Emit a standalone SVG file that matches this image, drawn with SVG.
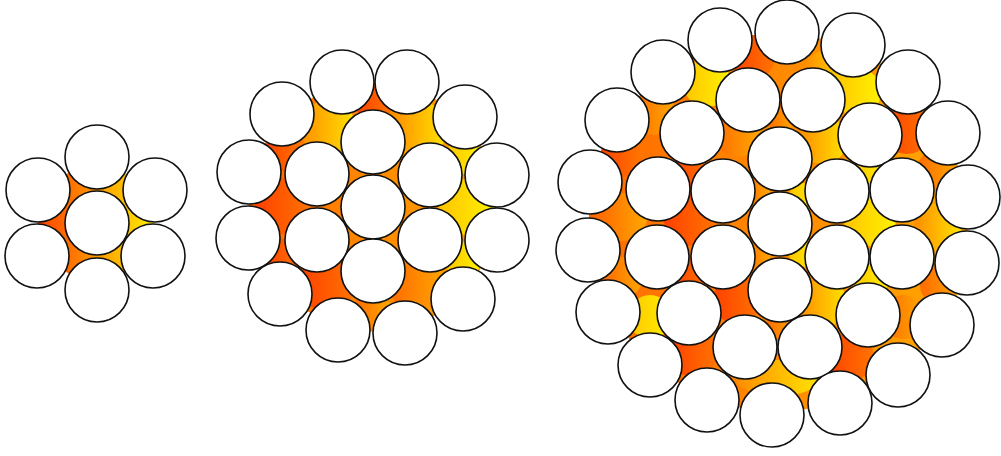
<svg xmlns="http://www.w3.org/2000/svg" width="1001" height="456" viewBox="0 0 1001 456">
<defs>
<linearGradient id="g1" gradientUnits="userSpaceOnUse" x1="40" y1="0" x2="155" y2="0"><stop offset="0" stop-color="#ff4400"/><stop offset="0.5" stop-color="#ff9a00"/><stop offset="1" stop-color="#fff000"/></linearGradient>
<linearGradient id="gR"><stop offset="0" stop-color="#ff4000"/><stop offset="1" stop-color="#ff7400"/></linearGradient>
<linearGradient id="gO"><stop offset="0" stop-color="#ff6a00"/><stop offset="1" stop-color="#ffa800"/></linearGradient>
<linearGradient id="gOY"><stop offset="0" stop-color="#ff8c00"/><stop offset="1" stop-color="#ffe400"/></linearGradient>
<linearGradient id="gY"><stop offset="0" stop-color="#ffc400"/><stop offset="1" stop-color="#fff200"/></linearGradient>
</defs>
<style>
.w{fill:#ffffff;stroke:#111111;stroke-width:1.6}
.R{fill:url(#gR)}.O{fill:url(#gO)}.OY{fill:url(#gOY)}.Y{fill:url(#gY)}
</style>
<rect width="1001" height="456" fill="#ffffff"/>

<g id="strand7">
<polygon points="97,157 155,190 153,255 97,290 37,255 38,190" fill="url(#g1)"/>
<g class="w">
<circle cx="97" cy="223" r="32"/>
<circle cx="97" cy="157" r="32"/>
<circle cx="97" cy="290" r="32"/>
<circle cx="38" cy="190" r="32"/>
<circle cx="37" cy="256" r="32"/>
<circle cx="155" cy="190" r="32"/>
<circle cx="153" cy="256" r="32"/>
</g>
</g>

<g id="strand19">
<polygon points="342,82 407,82 465,117 497,175 497,240 463,299 405,333 338,330 280,294 248,238 249,172 282,114" class="O"/>
<circle cx="283" cy="206" r="28" class="R"/>
<circle cx="467" cy="207" r="28" class="Y"/>
<circle cx="328" cy="128" r="28" class="OY"/>
<circle cx="419" cy="129" r="28" class="OY"/>
<circle cx="327" cy="284" r="28" class="R"/>
<circle cx="418" cy="286" r="28" class="O"/>
<circle cx="374" cy="104" r="18" class="R"/>
<circle cx="372" cy="309" r="18" class="O"/>
<circle cx="283" cy="153" r="18" class="R"/>
<circle cx="282" cy="257" r="18" class="R"/>
<circle cx="464" cy="156" r="18" class="Y"/>
<circle cx="463" cy="260" r="18" class="Y"/>
<g class="w">
<circle cx="373" cy="207" r="32"/>
<circle cx="373" cy="142" r="32"/>
<circle cx="373" cy="271" r="32"/>
<circle cx="317" cy="174" r="32"/>
<circle cx="317" cy="240" r="32"/>
<circle cx="430" cy="175" r="32"/>
<circle cx="430" cy="240" r="32"/>
<circle cx="342" cy="82" r="32"/>
<circle cx="407" cy="82" r="32"/>
<circle cx="282" cy="114" r="32"/>
<circle cx="465" cy="117" r="32"/>
<circle cx="249" cy="172" r="32"/>
<circle cx="497" cy="175" r="32"/>
<circle cx="248" cy="238" r="32"/>
<circle cx="497" cy="240" r="32"/>
<circle cx="280" cy="294" r="32"/>
<circle cx="463" cy="299" r="32"/>
<circle cx="338" cy="330" r="32"/>
<circle cx="405" cy="333" r="32"/>
</g>
</g>

<g id="strand37">
<polygon points="787,32 853,45 908,82 948,133 968,197 967,263 942,325 898,375 840,403 772,415 707,400 650,365 608,312 588,250 590,182 617,120 663,72 720,40" class="O"/>
<circle cx="753" cy="57" r="22" class="R"/>
<circle cx="827" cy="72" r="22" class="OY"/>
<circle cx="707" cy="83" r="24" class="Y"/>
<circle cx="857" cy="92" r="24" class="Y"/>
<circle cx="653" cy="113" r="22" class="O"/>
<circle cx="907" cy="130" r="24" class="R"/>
<circle cx="737" cy="133" r="24" class="O"/>
<circle cx="823" cy="140" r="24" class="OY"/>
<circle cx="780" cy="118" r="14" class="O"/>
<circle cx="620" cy="157" r="20" class="R"/>
<circle cx="690" cy="173" r="20" class="R"/>
<circle cx="870" cy="173" r="20" class="Y"/>
<circle cx="937" cy="170" r="20" class="O"/>
<circle cx="623" cy="217" r="24" class="O"/>
<circle cx="690" cy="220" r="26" class="R"/>
<circle cx="870" cy="220" r="26" class="Y"/>
<circle cx="938" cy="227" r="24" class="OY"/>
<circle cx="757" cy="197" r="14" class="O"/>
<circle cx="803" cy="197" r="14" class="Y"/>
<circle cx="757" cy="253" r="14" class="O"/>
<circle cx="803" cy="253" r="14" class="Y"/>
<circle cx="623" cy="277" r="20" class="O"/>
<circle cx="690" cy="277" r="20" class="R"/>
<circle cx="870" cy="277" r="20" class="Y"/>
<circle cx="940" cy="285" r="20" class="O"/>
<circle cx="650" cy="317" r="22" class="Y"/>
<circle cx="737" cy="300" r="24" class="R"/>
<circle cx="823" cy="303" r="24" class="OY"/>
<circle cx="903" cy="317" r="22" class="O"/>
<circle cx="693" cy="353" r="24" class="R"/>
<circle cx="780" cy="327" r="14" class="O"/>
<circle cx="850" cy="357" r="24" class="R"/>
<ellipse cx="778" cy="378" rx="42" ry="18" class="OY"/>
<g class="w">
<circle cx="780" cy="224" r="32"/>
<circle cx="780" cy="159" r="32"/>
<circle cx="780" cy="290" r="32"/>
<circle cx="723" cy="191" r="32"/>
<circle cx="723" cy="257" r="32"/>
<circle cx="837" cy="191" r="32"/>
<circle cx="837" cy="257" r="32"/>
<circle cx="748" cy="100" r="32"/>
<circle cx="813" cy="100" r="32"/>
<circle cx="692" cy="133" r="32"/>
<circle cx="870" cy="135" r="32"/>
<circle cx="658" cy="189" r="32"/>
<circle cx="902" cy="190" r="32"/>
<circle cx="657" cy="257" r="32"/>
<circle cx="902" cy="257" r="32"/>
<circle cx="689" cy="313" r="32"/>
<circle cx="868" cy="315" r="32"/>
<circle cx="745" cy="347" r="32"/>
<circle cx="810" cy="347" r="32"/>
<circle cx="787" cy="32" r="32"/>
<circle cx="720" cy="40" r="32"/>
<circle cx="853" cy="45" r="32"/>
<circle cx="663" cy="72" r="32"/>
<circle cx="908" cy="82" r="32"/>
<circle cx="617" cy="120" r="32"/>
<circle cx="948" cy="133" r="32"/>
<circle cx="590" cy="182" r="32"/>
<circle cx="968" cy="197" r="32"/>
<circle cx="588" cy="250" r="32"/>
<circle cx="967" cy="263" r="32"/>
<circle cx="608" cy="312" r="32"/>
<circle cx="942" cy="325" r="32"/>
<circle cx="650" cy="365" r="32"/>
<circle cx="898" cy="375" r="32"/>
<circle cx="707" cy="400" r="32"/>
<circle cx="840" cy="403" r="32"/>
<circle cx="772" cy="415" r="32"/>
</g>
</g>
</svg>
